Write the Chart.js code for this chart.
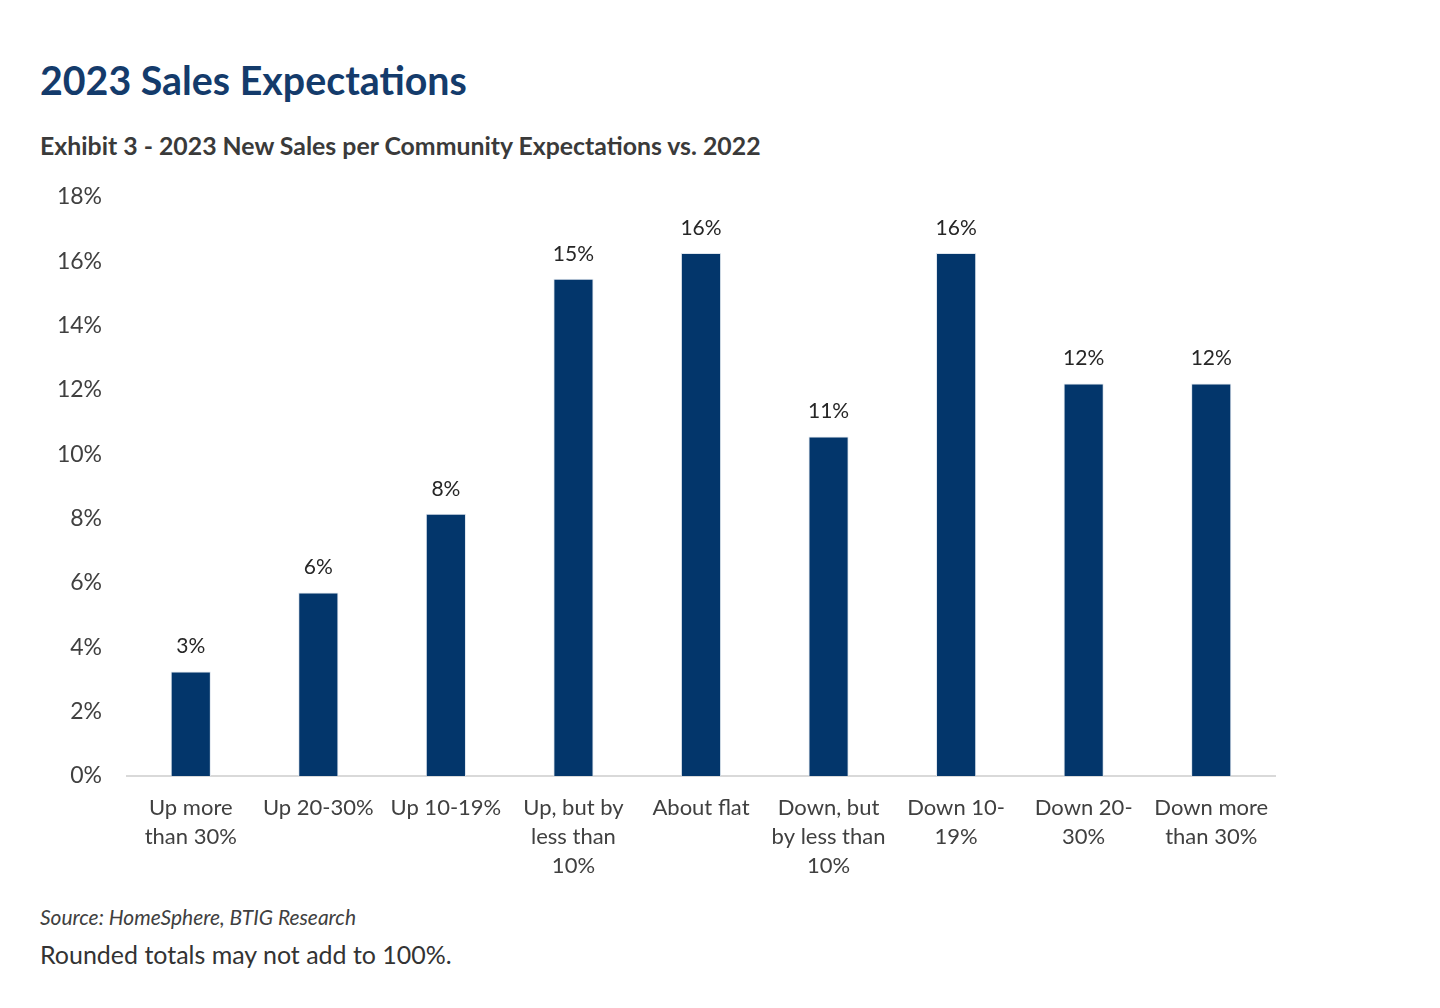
<!DOCTYPE html>
<html>
<head>
<meta charset="utf-8">
<script src="https://cdn.jsdelivr.net/npm/chart.js@4"></script>
<style>
  html, body { margin: 0; padding: 0; background: #fff; }
  body { width: 1440px; height: 1008px; position: relative; overflow: hidden; font-family: Lato, "Open Sans", sans-serif; }
  .t { position: absolute; white-space: nowrap; line-height: 1; }
  #title { left: 40px; top: 60px; font-size: 40px; font-weight: bold; color: #143b6b; }
  #sub { left: 40px; top: 133px; font-size: 24px; font-weight: bold; color: #3a3a3a; }
  #src { left: 40px; top: 907px; font-size: 20px; font-style: italic; color: #404040; }
  #note { left: 40px; top: 942px; font-size: 24px; color: #333; }
  #wrap { position: absolute; left: 0; top: 158px; width: 1440px; height: 732px; }
</style>
</head>
<body>
<div class="t" id="title" data-w="427">2023 Sales Expectations</div>
<div class="t" id="sub" data-w="721">Exhibit 3 - 2023 New Sales per Community Expectations vs. 2022</div>
<div class="t" id="src" data-w="316">Source: HomeSphere, BTIG Research</div>
<div class="t" id="note" data-w="412">Rounded totals may not add to 100%.</div>
<div id="wrap"><canvas id="c"></canvas></div>
<script>
const categories = [
  ["Up more", "than 30%"],
  ["Up 20-30%"],
  ["Up 10-19%"],
  ["Up, but by", "less than", "10%"],
  ["About flat"],
  ["Down, but", "by less than", "10%"],
  ["Down 10-", "19%"],
  ["Down 20-", "30%"],
  ["Down more", "than 30%"]
];
const shares = [3.25, 5.7, 8.15, 15.45, 16.25, 10.55, 16.25, 12.2, 12.2];
const shareLabels = ["3%", "6%", "8%", "15%", "16%", "11%", "16%", "12%", "12%"];
const yTicks = [0, 2, 4, 6, 8, 10, 12, 14, 16, 18];

// fit text widths to reference
document.querySelectorAll('.t').forEach(el => {
  const target = +el.dataset.w;
  const fs = parseFloat(getComputedStyle(el).fontSize);
  const w = el.getBoundingClientRect().width;
  el.style.fontSize = (fs * target / w).toFixed(2) + 'px';
});

const FONT = 'Lato, "Open Sans", sans-serif';

const barLabels = {
  id: 'barLabels',
  afterDatasetsDraw(chart) {
    const ctx = chart.ctx;
    const meta = chart.getDatasetMeta(0);
    ctx.save();
    ctx.font = '21px ' + FONT;
    ctx.fillStyle = '#262626';
    ctx.textAlign = 'center';
    ctx.textBaseline = 'middle';
    meta.data.forEach((bar, i) => {
      ctx.fillText(shareLabels[i], bar.x, bar.y - 25);
    });
    ctx.restore();
  }
};

new Chart(document.getElementById('c'), {
  type: 'bar',
  data: {
    labels: categories,
    datasets: [{
      data: shares,
      backgroundColor: '#03366b',
      borderColor: '#dfe6ee',
      borderWidth: 1,
      categoryPercentage: 1,
      barPercentage: 0.315
    }]
  },
  options: {
    responsive: true,
    maintainAspectRatio: false,
    animation: false,
    layout: { padding: { top: 15, right: 165, left: 0, bottom: 0 } },
    plugins: { legend: { display: false }, tooltip: { enabled: false } },
    scales: {
      x: {
        grid: { display: false, drawTicks: false },
        border: { display: true, color: '#d9d9d9', width: 2 },
        ticks: { color: '#404040', font: { family: FONT, size: 22, lineHeight: 1.3 }, padding: 18, maxRotation: 0, autoSkip: false },
        afterFit(s) { s.height = 114; }
      },
      y: {
        min: 0, max: 18,
        grid: { display: false, drawTicks: false },
        border: { display: false },
        afterBuildTicks(s) { s.ticks = yTicks.map(v => ({ value: v })); },
        ticks: { color: '#404040', font: { family: FONT, size: 23 }, padding: 25, callback: v => v + '%' },
        afterFit(s) { s.width = 127; }
      }
    }
  },
  plugins: [barLabels]
});
</script>
</body>
</html>
